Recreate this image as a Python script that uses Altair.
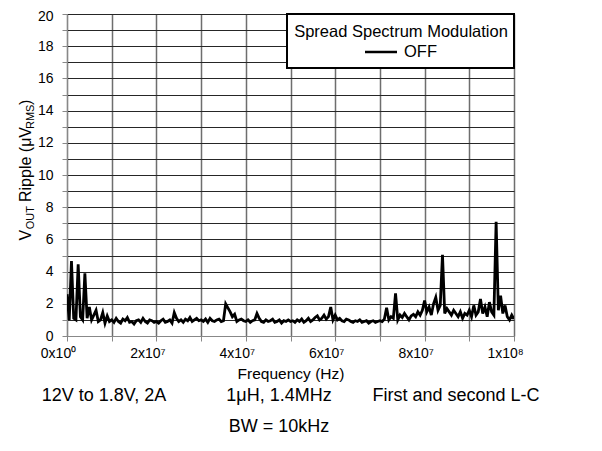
import altair as alt
import pandas as pd

# ---- data ----
# frequency grid (Hz), one sample every 0.5 MHz from 0 to 100 MHz
freq_step_hz = 500000
ripple_uvrms = [
    2.6, 1.0, 4.65, 1.1, 1.0, 4.45, 1.2, 1.0, 3.9, 1.1, 1.8, 1.0, 1.3, 1.6, 0.9, 1.0, 1.45, 0.8, 1.25, 0.9,
    1.0, 0.85, 1.1, 0.9, 0.8, 1.05, 0.95, 1.15, 0.85, 0.9, 0.75, 0.95, 1.0, 0.85, 1.1, 0.9, 0.8, 1.0, 0.95, 0.85,
    0.9, 0.8, 0.95, 1.05, 0.85, 0.9, 1.0, 0.8, 1.45, 1.1, 0.9, 1.0, 0.85, 1.05, 0.95, 1.15, 0.9, 1.0, 1.1, 0.95,
    1.0, 0.9, 1.05, 0.85, 1.1, 0.95, 0.9, 1.0, 1.05, 0.9, 0.95, 2.0, 1.75, 1.5, 1.2, 1.35, 0.9, 1.0, 1.05, 0.95,
    0.9, 1.0, 0.85, 0.95, 1.0, 1.4, 1.1, 0.9, 0.85, 1.0, 0.9, 0.95, 1.05, 0.85, 0.9, 1.0, 0.8, 0.95, 0.9, 1.0,
    0.9, 0.95, 0.85, 1.0, 0.9, 1.05, 0.85, 0.95, 1.1, 0.9, 1.0, 1.15, 1.25, 1.0, 1.1, 1.3, 1.05, 1.2, 1.8, 1.0,
    1.3, 1.0, 1.1, 0.95, 0.9, 1.05, 1.0, 0.9, 0.85, 0.95, 0.9, 1.0, 0.85, 0.9, 0.95, 0.8, 0.9, 0.95, 0.85, 0.9,
    0.95, 0.9, 1.05, 1.75, 1.0, 1.2, 1.1, 2.65, 1.0, 1.3, 1.15, 1.4, 1.2, 1.0, 1.25, 1.35, 1.2, 1.5, 1.3, 1.6,
    2.2, 1.5, 1.8, 1.3, 2.0, 2.4, 1.6, 1.9, 5.05, 1.4, 1.7, 1.5, 1.3, 1.6, 1.4, 1.2, 1.5, 1.1, 1.4, 1.3,
    1.6, 1.2, 1.9, 1.3, 1.5, 2.3, 1.4, 1.8, 1.2, 2.1, 1.5, 1.3, 7.1, 1.6, 2.5, 1.4, 1.9, 1.2, 1.0, 1.3, 1.05,
]
frequency_hz = [i * freq_step_hz for i in range(len(ripple_uvrms))]

x_grid_values = [0, 10000000, 20000000, 30000000, 40000000, 50000000,
                 60000000, 70000000, 80000000, 90000000, 100000000]
x_label_values = [0, 20000000, 40000000, 60000000, 80000000, 100000000]
x_tick_labels = ["0x10\u2070", "2x10\u2077", "4x10\u2077", "6x10\u2077", "8x10\u2077", "1x10\u2078"]
y_grid_values = list(range(0, 21))

legend_title = "Spread Spectrum Modulation"
legend_series = "OFF"
x_title = "Frequency (Hz)"
footer_row1 = ["12V to 1.8V, 2A", "1\u03bcH, 1.4MHz", "First and second L-C"]
footer_row2 = ["BW = 10kHz"]
y_title_parts = ["V", "OUT", "Ripple (\u03bcV", "RMS", ")"]

FONT = "Liberation Sans"

df = pd.DataFrame({"f": frequency_hz, "v": ripple_uvrms})

expr = "''"
for val, lab in reversed(list(zip(x_label_values, x_tick_labels))):
    expr = f"datum.value == {val} ? '{lab}' : ({expr})"

x_enc = alt.X(
    "f:Q",
    scale=alt.Scale(domain=[0, 100000000], nice=False, zero=False),
    axis=alt.Axis(
        values=x_grid_values, labelExpr=expr, title=x_title,
        grid=True, gridColor="#6e6e6e", gridWidth=1.5,
        labelFont=FONT, labelFontSize=14, labelColor="black",
        labelPadding=5, labelOffset=-9, labelFlush=False, labelOverlap=False,
        titleFont=FONT, titlePadding=6, titleFontSize=15.5, titleFontWeight="normal", titleColor="black",
    ),
)
y_enc = alt.Y(
    "v:Q",
    scale=alt.Scale(domain=[0, 20], nice=False),
    axis=alt.Axis(
        values=y_grid_values, labelExpr="datum.value % 2 == 0 ? datum.label : ''",
        title=None, grid=True, gridColor="#262626", gridWidth=1,
        labelFont=FONT, labelFontSize=14, labelColor="black",
        labelPadding=9, labelOverlap=False,
        labelOffset={"condition": {"test": "datum.value == 20", "value": 2}, "value": 0},
    ),
)

trace = alt.Chart(df).mark_line(color="black", strokeWidth=2.8, clip=True).encode(x=x_enc, y=y_enc)

def txt(s, x, y, size, align="center", baseline="middle", angle=0):
    kw = dict(font=FONT, fontSize=size, color="black", align=align, baseline=baseline)
    if angle:
        kw["angle"] = angle
    return alt.Chart(pd.DataFrame({"t": [s]})).mark_text(**kw).encode(
        text="t:N", x=alt.value(x), y=alt.value(y))

legend_box = alt.Chart(pd.DataFrame({"t": [legend_title]})).mark_rect(
    fill="white", stroke="black", strokeWidth=2).encode(
    x=alt.value(220), x2=alt.value(447), y=alt.value(0), y2=alt.value(54))
legend_line = alt.Chart(pd.DataFrame({"t": [legend_series]})).mark_rule(
    color="black", strokeWidth=2.5).encode(
    x=alt.value(298), x2=alt.value(330), y=alt.value(38))

layers = [trace, legend_box, legend_line,
          txt(legend_title, 334, 18, 16.5),
          txt(legend_series, 337, 38, 16.5, align="left")]

# footer notes
layers += [txt(footer_row1[0], 37, 382, 18), txt(footer_row1[1], 212, 382, 18),
           txt(footer_row1[2], 389, 382, 18), txt(footer_row2[0], 212, 413, 18)]

# y title with subscripts (rotated, reading bottom to top)
sizes = [16, 11, 16, 11, 16]
starts = [226.5, 215.3, 188.0, 115.0, 91.0]
xs = [-36, -33, -36, -33, -36]
for part, sz, st, xx in zip(y_title_parts, sizes, starts, xs):
    layers.append(txt(part, xx, st, sz, align="left", baseline="alphabetic", angle=270))

chart = alt.layer(*layers).properties(
    width=447, height=322,
    autosize=alt.AutoSizeParams(type="none"),
    padding={"left": 59, "top": 6, "right": 40, "bottom": 107},
).configure_view(stroke="black", strokeWidth=3).configure_axis(
    domain=False, ticks=False,
).configure(background="white")

chart.save("out.html", embed_options={"renderer": "svg", "actions": False})
